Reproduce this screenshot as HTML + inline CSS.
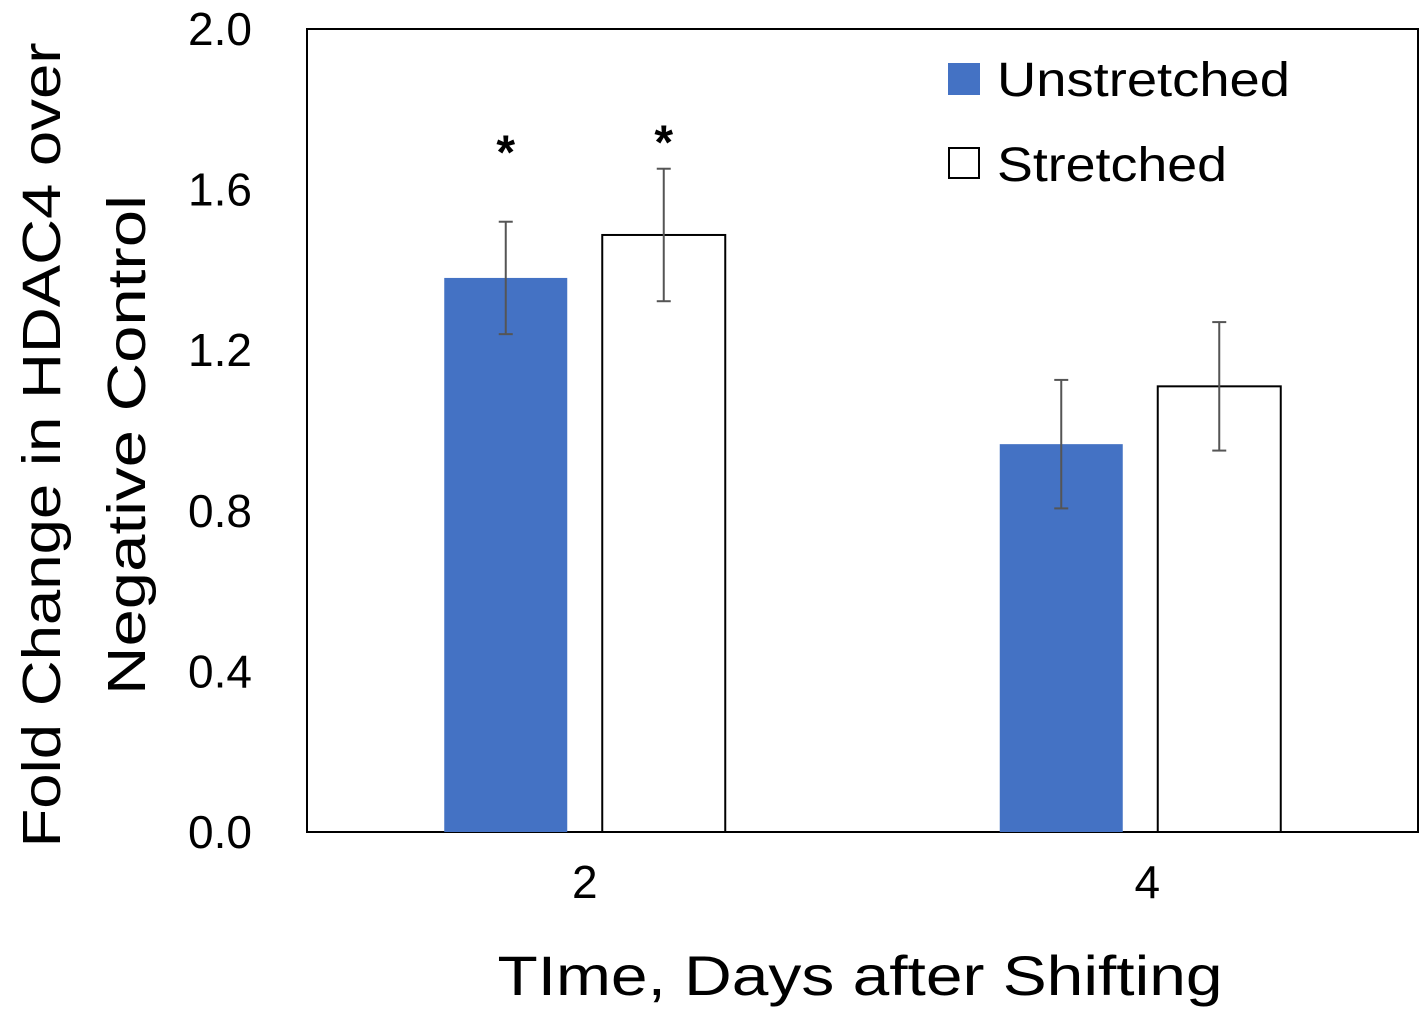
<!DOCTYPE html>
<html><head><meta charset="utf-8"><style>
html,body{margin:0;padding:0;background:#fff;}
svg{display:block;font-family:"Liberation Sans",Arial,sans-serif;}
</style></head><body>
<svg id="chart" width="1427" height="1017" viewBox="0 0 1427 1017" xmlns="http://www.w3.org/2000/svg">
<rect x="307" y="29" width="1111" height="803" fill="#fff" stroke="#000" stroke-width="2"/>
<g id="bars"></g>
<g id="yticks"></g>
<g id="xticks"></g>
<text transform="translate(60,445) rotate(-90)" text-anchor="middle" font-size="54" textLength="805" lengthAdjust="spacingAndGlyphs">Fold Change in HDAC4 over</text>
<text transform="translate(145,445) rotate(-90)" text-anchor="middle" font-size="54" textLength="500" lengthAdjust="spacingAndGlyphs">Negative Control</text>
<text x="860" y="995" text-anchor="middle" font-size="56" textLength="725" lengthAdjust="spacingAndGlyphs">TIme, Days after Shifting</text>
<g>
<rect x="948" y="63" width="32" height="32" fill="#4472C4"/>
<text x="997" y="96" font-size="48" textLength="293" lengthAdjust="spacingAndGlyphs">Unstretched</text>
<rect x="949" y="148" width="30" height="30" fill="#fff" stroke="#000" stroke-width="2"/>
<text x="997" y="181" font-size="48" textLength="230" lengthAdjust="spacingAndGlyphs">Stretched</text>
</g>
</svg>
<script>
const categories = ["2", "4"];
const unstretched = [1.38, 0.966];
const stretched = [1.487, 1.11];
const unstretchedErr = [0.14, 0.16];
const stretchedErr = [0.165, 0.16];
const significant = [true, false];
const yTicks = [0, 0.4, 0.8, 1.2, 1.6, 2.0];
const yTickLabels = ["0.0", "0.4", "0.8", "1.2", "1.6", "2.0"];

const NS = "http://www.w3.org/2000/svg";
const X0 = 307, X1 = 1418, Y0 = 832, Y1 = 29, YMAX = 2.0;
function y(v){ return Y0 - (v / YMAX) * (Y0 - Y1); }
function bandCenter(i){ const w = (X1 - X0) / categories.length; return X0 + w * (i + 0.5); }
function mk(tag, attrs, parent){ const e = document.createElementNS(NS, tag); for (const k in attrs) e.setAttribute(k, attrs[k]); parent.appendChild(e); return e; }

const bars = document.getElementById("bars");
const BW = 123, GAP = 35;
categories.forEach((c, i) => {
  const cx = bandCenter(i);
  const groupTop = Math.max(unstretched[i] + unstretchedErr[i], stretched[i] + stretchedErr[i]);
  const series = [
    {v: unstretched[i], e: unstretchedErr[i], x: cx - GAP/2 - BW, fill: "#4472C4", stroke: "none", name: "unstretched", off: 10},
    {v: stretched[i], e: stretchedErr[i], x: cx + GAP/2, fill: "#fff", stroke: "#000", name: "stretched", off: 0}
  ];
  series.forEach(s => {
    const r = mk("rect", {x: s.x, y: y(s.v), width: BW, height: y(0) - y(s.v), fill: s.fill, stroke: s.stroke, "stroke-width": 2}, bars);
    
    
    const mx = s.x + BW/2;
    const g = mk("g", {stroke: "#555", "stroke-width": 2}, bars);
    
    
    mk("line", {x1: mx, x2: mx, y1: y(s.v + s.e), y2: y(s.v - s.e)}, g);
    mk("line", {x1: mx - 7, x2: mx + 7, y1: y(s.v + s.e), y2: y(s.v + s.e)}, g);
    mk("line", {x1: mx - 7, x2: mx + 7, y1: y(s.v - s.e), y2: y(s.v - s.e)}, g);
    if (significant[i]) {
      const t = mk("text", {x: mx, y: y(groupTop) - 36 + s.off + 26, "text-anchor": "middle", "font-size": 48, "font-weight": "bold"}, bars);
      t.textContent = "*";
      
      
    }
  });
  const xl = mk("text", {x: cx + (i === 1 ? 7 : 0), y: 898, "text-anchor": "middle", "font-size": 46}, document.getElementById("xticks"));
  xl.textContent = c;
  
  
});
const yt = document.getElementById("yticks");
yTicks.forEach((v, i) => {
  const t = mk("text", {x: 252, y: y(v) + 16, "text-anchor": "end", "font-size": 46}, yt);
  t.textContent = yTickLabels[i];
  
  
});
</script>
</body></html>
